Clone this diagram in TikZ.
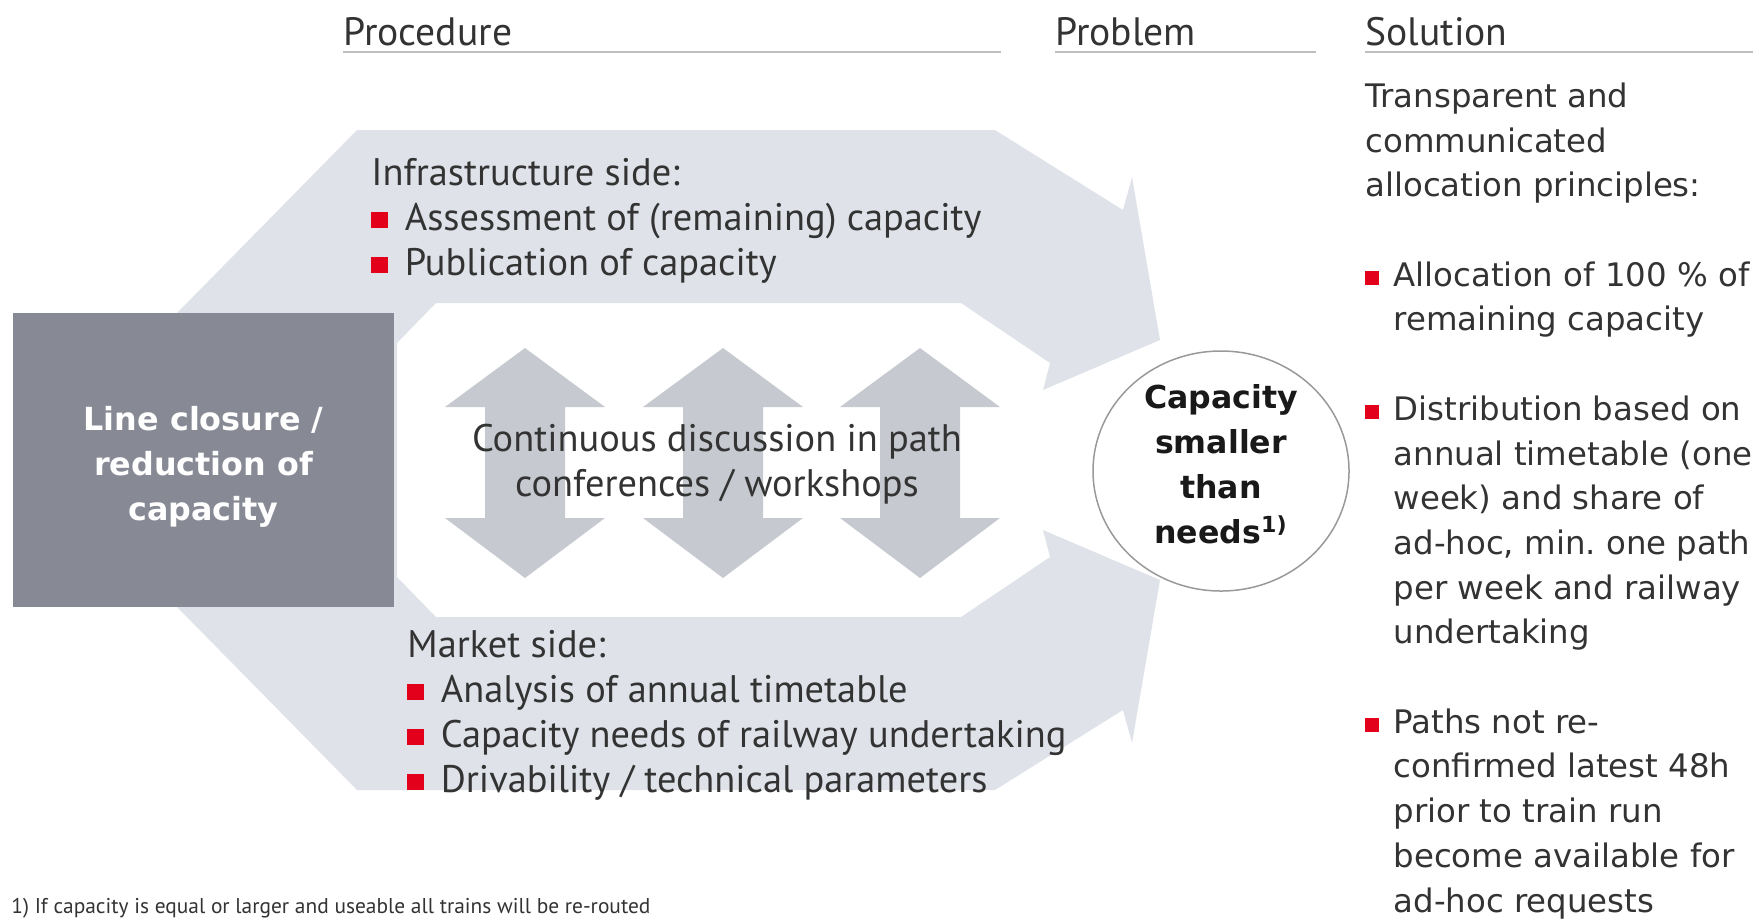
\documentclass[tikz,border=0pt]{standalone}
\usepackage{fontspec}
\setmainfont{PT Sans}
\newfontfamily\widefont{DejaVu Sans}
\usetikzlibrary{shapes.geometric}
\definecolor{bandgray}{HTML}{DFE3E9}
\definecolor{arrgray}{HTML}{C6CAD0}
\definecolor{boxgray}{HTML}{878A94}
\definecolor{dbred}{HTML}{E2001A}
\definecolor{txtgray}{HTML}{333333}
\definecolor{rulegray}{HTML}{BEBEBE}
\newcommand{\bul}{\textcolor{dbred}{\rule[.05em]{.42em}{.42em}}\hspace{.45em}}
\newcommand{\bulgap}{\phantom{\bul}}
\frenchspacing

\begin{document}
\begin{tikzpicture}[x=0.5pt, y=-0.5pt,
    head/.style={anchor=base west, inner sep=0, text=txtgray, font=\fontsize{19.8}{22.5}\selectfont},
    headline/.style={rulegray, line width=1pt},
    proc/.style={anchor=base west, inner sep=0, align=left, text=txtgray, font=\fontsize{19.2}{22.5}\selectfont},
    sol/.style={anchor=base west, inner sep=0, align=left, text=txtgray, font=\widefont\fontsize{16.2}{22.35}\selectfont}]
    \useasboundingbox (0,0) rectangle (1764,918);

    \node[head] (hproc) at (343,45) {Procedure};
    \node[head] (hprob) at (1055,45) {Problem};
    \node[head] (hsol) at (1365,45) {Solution};
    \draw[headline] (343,52) -- (1001,52);
    \draw[headline] (1055,52) -- (1316,52);
    \draw[headline] (1365,52) -- (1753,52);

    \fill[bandgray] (177,313) -- (357,130) -- (995,130) -- (1123,210) -- (1132,177) -- (1160,340)
        -- (1043,390) -- (1050,363) -- (961,303) -- (436,303) -- (397,343) -- (397,577)
        -- (436,617) -- (961,617) -- (1050,557) -- (1043,530) -- (1160,580) -- (1132,743)
        -- (1123,710) -- (995,790) -- (357,790) -- (177,607) -- cycle;

    \foreach \cx in {525,723,920}
        \fill[arrgray] (\cx,348) -- (\cx+80,407) -- (\cx+40,407) -- (\cx+40,518) -- (\cx+80,518)
            -- (\cx,578) -- (\cx-80,518) -- (\cx-40,518) -- (\cx-40,407) -- (\cx-80,407) -- cycle;

    \node[fill=boxgray, minimum width=190.5pt, minimum height=147pt, inner sep=0, align=center,
        text=white, font=\widefont\bfseries\fontsize{15.9}{22.5}\selectfont] (closure) at (203.5,460)
        {\\[-4pt]Line closure /\\reduction of\\capacity};

    \node[proc] (infra) at (371,275) {Infrastructure side:\\\bul Assessment of (remaining) capacity\\\bul Publication of capacity};
    \node[proc, anchor=center, align=center] (talks) at (717,464) {Continuous discussion in path\\conferences / workshops};
    \node[proc] (market) at (407,792) {Market side:\\\bul Analysis of annual timetable\\\bul Capacity needs of railway undertaking\\\bul Drivability / technical parameters};

    \node[ellipse, draw=black!40, line width=0.75pt, fill=white, minimum width=128pt, minimum height=120pt,
        inner sep=0] (shortage) at (1221,471) {};
    \node[align=center, inner sep=0, text=black!90, font=\widefont\bfseries\fontsize{15.8}{22.5}\selectfont,
        yshift=3.5pt] (shortagetxt) at (shortage.center) {Capacity\\smaller\\than\\needs\textsuperscript{1)}};

    \node[sol] (rules) at (1365,912) {Transparent and\\communicated\\allocation principles:\\[22.35pt]
        \bul Allocation of 100 \% of\\\bulgap remaining capacity\\[22.35pt]
        \bul Distribution based on\\\bulgap annual timetable (one\\\bulgap week) and share of\\\bulgap ad-hoc, min. one path\\\bulgap per week and railway\\\bulgap undertaking\\[22.35pt]
        \bul Paths not re-\\\bulgap confirmed latest 48h\\\bulgap prior to train run\\\bulgap become available for\\\bulgap ad-hoc requests};

    \node[anchor=base west, inner sep=0, text=txtgray, font=\fontsize{10.7}{12}\selectfont] (note) at (11,913)
        {1) If capacity is equal or larger and useable all trains will be re-routed};
\end{tikzpicture}
\end{document}
